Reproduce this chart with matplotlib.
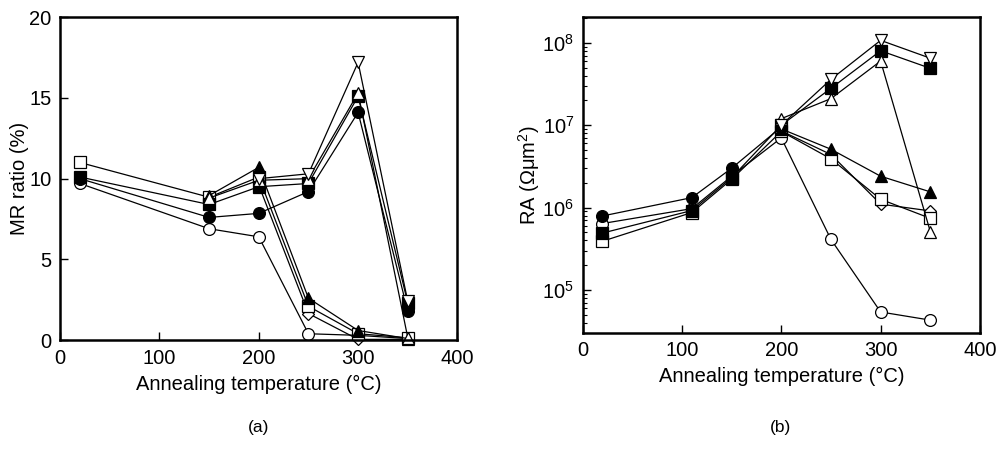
import matplotlib
matplotlib.use('Agg')
import matplotlib.pyplot as plt
from matplotlib.ticker import LogLocator, FixedLocator

plt.rcParams['font.family'] = ['Liberation Sans', 'DejaVu Sans']
plt.rcParams['mathtext.fontset'] = 'custom'
plt.rcParams['mathtext.rm'] = 'Liberation Sans'
plt.rcParams['mathtext.it'] = 'Liberation Sans'

# (a) MR ratio (%) vs annealing temperature
mr_x = {
    'open_circle':   [20, 150, 200, 250, 300, 350],
    'filled_circle': [20, 150, 200, 250, 300, 350],
    'open_square':   [20, 150, 200, 250, 300, 350],
    'filled_square': [20, 150, 200, 250, 300, 350],
    'filled_tri':    [150, 200, 250, 300, 350],
    'open_tri':      [150, 200, 250, 300, 350],
    'open_tri_down': [200, 250, 300, 350],
    'diamond':       [200, 250, 300, 350],
}
mr_y = {
    'open_circle':   [9.7, 6.9, 6.4, 0.4, 0.3, 0.1],
    'filled_circle': [10.0, 7.6, 7.85, 9.2, 14.1, 1.8],
    'open_square':   [11.0, 8.85, 10.1, 2.1, 0.4, 0.15],
    'filled_square': [10.1, 8.4, 9.5, 9.7, 15.1, 2.3],
    'filled_tri':    [8.95, 10.7, 2.6, 0.6, 0.1],
    'open_tri':      [8.8, 9.9, 10.0, 15.3, 0.15],
    'open_tri_down': [10.0, 10.3, 17.2, 2.4],
    'diamond':       [9.6, 1.65, 0.05, 0.05],
}

# (b) RA (Ohm um^2) vs annealing temperature
ra_x = {
    'open_circle':   [20, 110, 150, 200, 250, 300, 350],
    'filled_circle': [20, 110, 150, 200],
    'open_square':   [20, 110, 150, 200, 250, 300, 350],
    'filled_square': [20, 110, 150, 200, 250, 300, 350],
    'filled_tri':    [200, 250, 300, 350],
    'open_tri':      [200, 250, 300, 350],
    'open_tri_down': [200, 250, 300, 350],
    'diamond':       [200, 250, 300, 350],
}
ra_y = {
    'open_circle':   [6.4e5, 9.7e5, 2.4e6, 7.0e6, 4.1e5, 5.4e4, 4.3e4],
    'filled_circle': [7.9e5, 1.32e6, 3.0e6, 9.5e6],
    'open_square':   [3.9e5, 8.7e5, 2.2e6, 8.4e6, 3.9e6, 1.26e6, 7.4e5],
    'filled_square': [4.9e5, 9.2e5, 2.3e6, 1.0e7, 2.8e7, 8.0e7, 4.9e7],
    'filled_tri':    [9.0e6, 5.1e6, 2.4e6, 1.55e6],
    'open_tri':      [1.2e7, 2.1e7, 6.0e7, 5.1e5],
    'open_tri_down': [1.0e7, 3.6e7, 1.07e8, 6.5e7],
    'diamond':       [8.5e6, 4.4e6, 1.1e6, 9.1e5],
}

styles = {
    'open_circle':   ('o', 'white'),
    'filled_circle': ('o', 'black'),
    'open_square':   ('s', 'white'),
    'filled_square': ('s', 'black'),
    'filled_tri':    ('^', 'black'),
    'open_tri':      ('^', 'white'),
    'open_tri_down': ('v', 'white'),
    'diamond':       ('D', 'white'),
}
order = ['open_circle', 'filled_circle', 'diamond', 'open_square', 'filled_tri',
         'filled_square', 'open_tri', 'open_tri_down']
msize = {'o': 8.5, 's': 8.5, '^': 8.5, 'v': 8.5, 'D': 6.5}

fig = plt.figure(figsize=(10.01, 4.5), dpi=100)
ax1 = fig.add_axes([0.060, 0.244, 0.397, 0.718])
ax2 = fig.add_axes([0.582, 0.260, 0.397, 0.702])

for key in order:
    m, fc = styles[key]
    ax1.plot(mr_x[key], mr_y[key], color='black', linewidth=0.9, marker=m,
             markersize=msize[m], markerfacecolor=fc, markeredgecolor='black',
             markeredgewidth=0.9, clip_on=False)
    ax2.plot(ra_x[key], ra_y[key], color='black', linewidth=0.9, marker=m,
             markersize=msize[m], markerfacecolor=fc, markeredgecolor='black',
             markeredgewidth=0.9, clip_on=False)

fs = 14.5
ax1.set_xlim(0, 400)
ax1.set_ylim(0, 20)
ax1.set_xticks([0, 100, 200, 300, 400])
ax1.set_yticks([0, 5, 10, 15, 20])
ax1.set_xlabel('Annealing temperature (°C)', fontsize=fs, labelpad=5)
ax1.set_ylabel('MR ratio (%)', fontsize=fs, labelpad=0)

ax2.set_yscale('log')
ax2.set_xlim(0, 400)
ax2.set_ylim(3.0e4, 2.05e8)
ax2.set_xticks([0, 100, 200, 300, 400])
ax2.yaxis.set_major_locator(FixedLocator([1e5, 1e6, 1e7, 1e8]))
ax2.yaxis.set_minor_locator(LogLocator(base=10, subs=range(2, 10), numticks=20))
ax2.set_yticklabels([r'$10^5$', r'$10^6$', r'$10^7$', r'$10^8$'])
ax2.set_xlabel('Annealing temperature (°C)', fontsize=fs, labelpad=5)
ax2.set_ylabel(r'RA ($\Omega\mu$m$^2$)', fontsize=fs, labelpad=0)

for ax in (ax1, ax2):
    for sp in ax.spines.values():
        sp.set_linewidth(1.8)
    ax.tick_params(which='major', direction='in', length=6, width=1,
                   labelsize=fs, pad=6)
    ax.tick_params(which='minor', direction='in', length=3, width=0.8)

fig.text(0.258, 0.04, '(a)', ha='center', fontsize=12.5)
fig.text(0.780, 0.04, '(b)', ha='center', fontsize=12.5)

fig.savefig('out.png', dpi=100)
